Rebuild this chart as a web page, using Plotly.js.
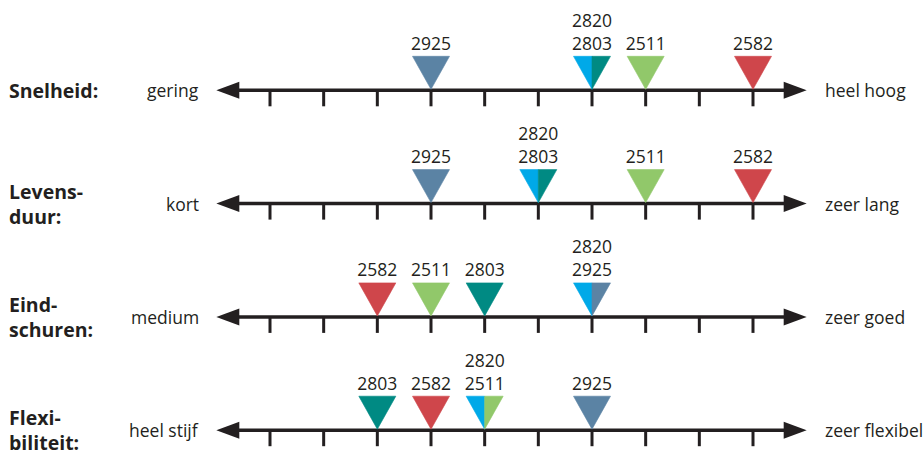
<!DOCTYPE html>
<html><head><meta charset="utf-8">
<script src="https://cdn.plot.ly/plotly-3.0.1.min.js"></script>
<style>html,body{margin:0;padding:0;background:#fff}#chart{width:924px;height:450px}</style>
</head><body><div id="chart"></div>
<script>
// ---- data ----
const criteria = ['Snelheid:', 'Levens-<br>duur:', 'Eind-<br>schuren:', 'Flexi-<br>biliteit:'];
const lowLabels = ['gering', 'kort', 'medium', 'heel stijf'];
const highLabels = ['heel hoog', 'zeer lang', 'zeer goed', 'zeer flexibel'];
const tickValues = [1, 2, 3, 4, 5, 6, 7, 8, 9, 10];
const scaleMin = 0, scaleMax = 11;
const products = ['2820', '2925', '2803', '2511', '2582'];
const productColors = ['#00a9e8', '#5b83a4', '#008a83', '#91c86a', '#cf464b'];
const score2820 = [7, 6, 7, 5];
const score2925 = [4, 4, 7, 7];
const score2803 = [7, 6, 5, 3];
const score2511 = [8, 8, 4, 5];
const score2582 = [10, 10, 3, 4];
const scores = [score2820, score2925, score2803, score2511, score2582];

// ---- geometry (pixels converted to axis units) ----
const W = 924, H = 450;
const X_PX = 483 / 9;      // px per scale step
const Y_PX = 113.3;        // px per row
const X0_PX = 270, Y0_PX = 90.3;
const xRange = [1 - X0_PX / X_PX, 1 + (W - X0_PX) / X_PX];
const yRange = [(H - Y0_PX) / Y_PX, -Y0_PX / Y_PX];
const dx = p => p / X_PX, dy = p => p / Y_PX;

const INK = '#231f20';
const FONT = '"Open Sans", "Noto Sans", sans-serif';

const traces = [];
const annotations = [];

criteria.forEach((crit, r) => {
  // axis line
  traces.push({x: [scaleMin + dx(10), scaleMax - dx(10)], y: [r, r], mode: 'lines',
    line: {color: INK, width: 3.5}, hoverinfo: 'skip'});
  // ticks
  const tx = [], ty = [];
  tickValues.forEach(t => { tx.push(t, t, null); ty.push(r, r + dy(16), null); });
  traces.push({x: tx, y: ty, mode: 'lines', line: {color: INK, width: 3}, hoverinfo: 'skip'});
  // arrowheads
  const aL = dx(23), aH = dy(8.5);
  traces.push({x: [scaleMin, scaleMin + aL, scaleMin + aL, scaleMin], y: [r, r - aH, r + aH, r],
    mode: 'lines', fill: 'toself', fillcolor: INK, line: {width: 0, color: INK}, hoverinfo: 'skip'});
  traces.push({x: [scaleMax, scaleMax - aL, scaleMax - aL, scaleMax], y: [r, r - aH, r + aH, r],
    mode: 'lines', fill: 'toself', fillcolor: INK, line: {width: 0, color: INK}, hoverinfo: 'skip'});

  // group products by position
  const groups = {};
  products.forEach((p, i) => {
    const v = scores[i][r];
    (groups[v] = groups[v] || []).push(i);
  });
  Object.keys(groups).forEach(key => {
    const v = Number(key), members = groups[key], n = members.length;
    const hw = dx(18.5), top = r - dy(34), tip = r - dy(1);
    members.forEach((pi, k) => {
      const xa = v - hw + (2 * hw) * k / n, xb = v - hw + (2 * hw) * (k + 1) / n;
      traces.push({x: [xa, xb, v, xa], y: [top, top, tip, top], mode: 'lines', fill: 'toself',
        fillcolor: productColors[pi], line: {width: 0.6, color: productColors[pi]}, hoverinfo: 'skip'});
      traces.push({x: [v], y: [r - dy(45 + 23 * (n - 1 - k))], mode: 'text', text: [products[pi]],
        textposition: 'middle center', textfont: {family: FONT, size: 17.5, color: INK}, hoverinfo: 'skip'});
    });
  });

  annotations.push({xref: 'paper', x: 7 / W, xanchor: 'left', yref: 'y', y: r, yanchor: 'middle',
    text: '<b>' + crit + '</b>', showarrow: false, align: 'left',
    font: {family: FONT, size: 19.5, color: INK}});
  annotations.push({xref: 'x', x: scaleMin, xanchor: 'right', xshift: -15, yref: 'y', y: r, yanchor: 'middle',
    text: lowLabels[r], showarrow: false, font: {family: FONT, size: 17.5, color: INK}});
  annotations.push({xref: 'x', x: scaleMax, xanchor: 'left', xshift: 16, yref: 'y', y: r, yanchor: 'middle',
    text: highLabels[r], showarrow: false, font: {family: FONT, size: 17.5, color: INK}});
});

const layout = {
  width: W, height: H, margin: {l: 0, r: 0, t: 0, b: 0},
  paper_bgcolor: '#fff', plot_bgcolor: '#fff', showlegend: false,
  xaxis: {range: xRange, visible: false, fixedrange: true},
  yaxis: {range: yRange, visible: false, fixedrange: true},
  annotations: annotations, hovermode: false
};
Plotly.newPlot('chart', traces, layout, {displayModeBar: false, staticPlot: true});
</script></body></html>
